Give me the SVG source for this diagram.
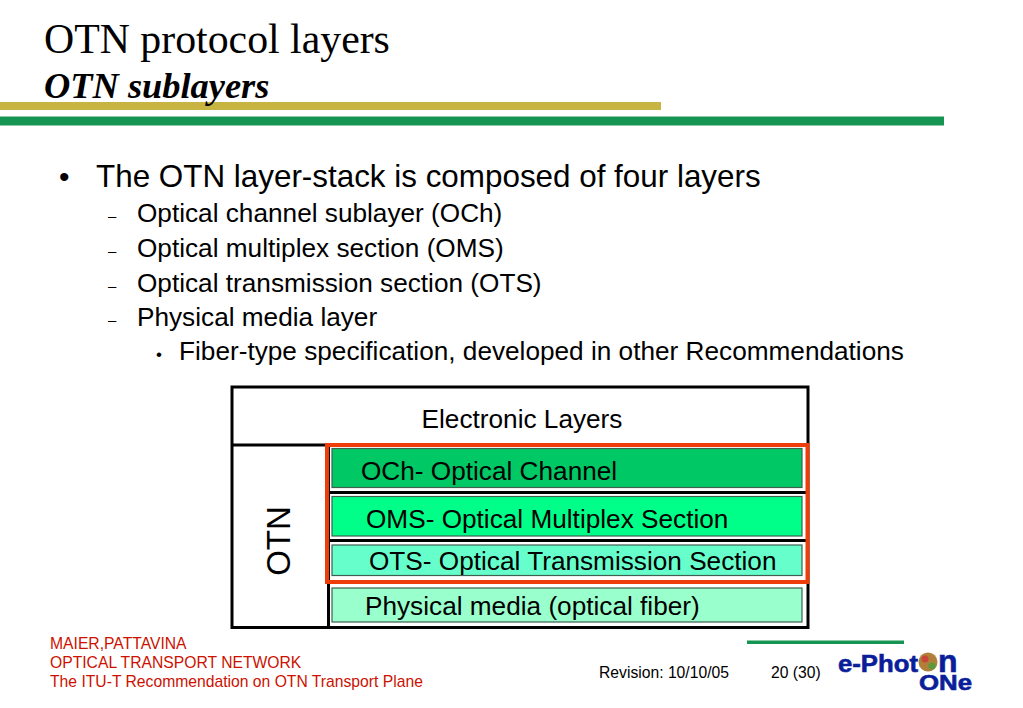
<svg xmlns="http://www.w3.org/2000/svg" width="1023" height="708" viewBox="0 0 1023 708">
<style>
text{font-family:"Liberation Sans",Arial,sans-serif;fill:#000}
.serif{font-family:"Liberation Serif","Times New Roman",serif}
.l1{font-size:31.4px}
.l2{font-size:26.2px}
.dash{font-size:15px}
.dg{font-size:26.2px}
.ft{font-size:15.7px}
.red{fill:#cc1100}
.box{stroke:#3f5f50;stroke-width:1.2}
.blk{fill:none;stroke:#000;stroke-width:3}
.logo{font-weight:bold;fill:#0a1e9a;stroke:#0a1e9a;stroke-width:.6}
</style>
<rect width="1023" height="708" fill="#fff"/>
<g id="title">
<rect x="0" y="102" width="661" height="8" fill="#c8b440"/>
<rect x="0" y="116.500" width="944" height="9" fill="#169552"/>
<text class="serif" x="44" y="53" font-size="41.800">OTN protocol layers</text>
<text class="serif" x="44" y="98" font-size="36.400" font-weight="bold" font-style="italic">OTN sublayers</text>
</g>
<g id="bullets">
<text x="59" y="187" font-size="30">•</text>
<text class="l1" x="96" y="187">The OTN layer-stack is composed of four layers</text>
<text class="dash" x="108" y="221">–</text><text class="l2" x="137" y="222">Optical channel sublayer (OCh)</text>
<text class="dash" x="108" y="256">–</text><text class="l2" x="137" y="256.500">Optical multiplex section (OMS)</text>
<text class="dash" x="108" y="291">–</text><text class="l2" x="137" y="291.500">Optical transmission section (OTS)</text>
<text class="dash" x="108" y="325">–</text><text class="l2" x="137" y="326">Physical media layer</text>
<text x="156" y="360" font-size="17">•</text><text class="l2" x="179" y="360">Fiber-type specification, developed in other Recommendations</text>
</g>
<g id="connectors"></g>
<g id="stack">
<rect class="blk" x="232" y="387" width="576" height="240.500"/>
<line class="blk" x1="232" y1="445" x2="808" y2="445"/>
<line class="blk" x1="328.500" y1="445" x2="328.500" y2="627"/>
<line class="blk" x1="328" y1="492.500" x2="808" y2="492.500"/>
<line class="blk" x1="328" y1="540.500" x2="808" y2="540.500"/>
<text class="dg" x="522" y="428" text-anchor="middle">Electronic Layers</text>
<text x="290" y="541" font-size="33" text-anchor="middle" transform="rotate(-90 290 541)">OTN</text>
</g>
<g id="och"><rect class="box" x="332" y="448.500" width="470" height="39" fill="#00c864"/><text class="dg" x="361" y="480">OCh- Optical Channel</text></g>
<g id="oms"><rect class="box" x="332" y="496.500" width="470" height="39.500" fill="#00ff88"/><text class="dg" x="366" y="528">OMS- Optical Multiplex Section</text></g>
<g id="ots"><rect class="box" x="332" y="545" width="470" height="30.500" fill="#66ffcc"/><text class="dg" x="369" y="570">OTS- Optical Transmission Section</text></g>
<g id="phy"><rect class="box" x="332" y="588" width="470" height="34" fill="#99ffcc"/><text class="dg" x="365" y="615">Physical media (optical fiber)</text></g>
<g id="highlight"><rect x="327" y="445" width="480.500" height="137" fill="none" stroke="#ee3d0a" stroke-width="4"/></g>
<g id="footer">
<text class="ft red" x="50" y="649">MAIER,PATTAVINA</text>
<text class="ft red" x="50" y="667.500">OPTICAL TRANSPORT NETWORK</text>
<text class="ft red" x="50" y="687">The ITU-T Recommendation on OTN Transport Plane</text>
<text class="ft" x="599" y="677.500">Revision: 10/10/05</text>
<text class="ft" x="771" y="677.500">20 (30)</text>
<rect x="747" y="640.500" width="157" height="3.500" fill="#169552"/>
</g>
<g id="logo">
<text class="logo" x="838" y="672" font-size="24" textLength="80" lengthAdjust="spacingAndGlyphs">e-Phot</text>
<circle cx="928" cy="662" r="9.500" fill="#b0803a"/>
<circle cx="925" cy="659" r="3.500" fill="#c8453a"/>
<circle cx="932" cy="666" r="3.500" fill="#5a9a3a"/>
<text class="logo" x="938" y="672" font-size="32">n</text>
<text class="logo" x="919" y="690" font-size="22" textLength="53" lengthAdjust="spacingAndGlyphs">ONe</text>
</g>
</svg>
